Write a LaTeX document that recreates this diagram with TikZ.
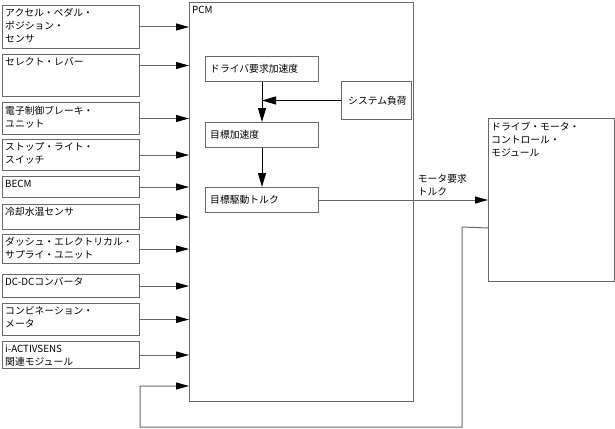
\documentclass[tikz,border=0pt]{standalone}
\usepackage{fontspec}
\setmainfont{Noto Sans CJK JP}
\usetikzlibrary{arrows.meta}
\definecolor{boxgray}{RGB}{105,105,105}

\begin{document}
\begin{tikzpicture}[x=1pt, y=-1pt, font=\fontsize{9.8}{13}\selectfont,
  sbox/.style={draw=boxgray, line width=1pt, anchor=north west, inner sep=0pt, minimum width=137pt},
  ibox/.style={draw=boxgray, line width=1pt, anchor=north west, inner sep=0pt},
  tl/.style={anchor=north west, align=left, inner xsep=3pt, inner ysep=3.5pt},
  ml/.style={anchor=west, inner sep=0pt},
  arr/.style={draw=boxgray, line width=1pt, -{Triangle[length=13pt,width=7pt,color=black]}},
  iarr/.style={draw=black, line width=1pt, -{Triangle[length=14pt,width=8pt]}}]
  \useasboundingbox (0,0) rectangle (615,428);

  % input units
  \node[sbox, minimum height=43pt, label={[tl]north west:アクセル・ペダル・\\ポジション・\\センサ}] (accel) at (2,5) {};
  \node[sbox, minimum height=42pt, label={[tl]north west:セレクト・レバー}] (sel) at (2,54) {};
  \node[sbox, minimum height=32pt, label={[tl]north west:電子制御ブレーキ・\\ユニット}] (ebrk) at (2,102) {};
  \node[sbox, minimum height=31pt, label={[tl]north west:ストップ・ライト・\\スイッチ}] (stop) at (2,139) {};
  \node[sbox, minimum height=21pt, label={[tl]north west:BECM}] (becm) at (2,176) {};
  \node[sbox, minimum height=25pt, label={[tl]north west:冷却水温センサ}] (cool) at (2,204) {};
  \node[sbox, minimum height=29pt, label={[tl]north west:ダッシュ・エレクトリカル・\\サプライ・ユニット}] (dash) at (2,234) {};
  \node[sbox, minimum height=23pt, label={[tl]north west:DC-DCコンバータ}] (dcdc) at (2,274) {};
  \node[sbox, minimum height=32pt, label={[tl]north west:コンビネーション・\\メータ}] (combi) at (2,303) {};
  \node[sbox, minimum height=27pt, label={[tl]north west:i-ACTIVSENS\\関連モジュール}] (iact) at (2,341) {};

  % PCM and its blocks
  \node[ibox, minimum width=224pt, minimum height=399pt, label={[tl]north west:PCM}] (pcm) at (189,2) {};
  \node[ibox, minimum width=113pt, minimum height=25pt, label={[ml, xshift=5pt]west:ドライバ要求加速度}] (drv) at (205,56) {};
  \node[ibox, minimum width=70pt, minimum height=38pt, label={[ml, xshift=7pt]west:システム負荷}] (sys) at (341,81) {};
  \node[ibox, minimum width=113pt, minimum height=25pt, label={[ml, xshift=5pt]west:目標加速度}] (acc) at (205,122) {};
  \node[ibox, minimum width=113pt, minimum height=25pt, label={[ml, xshift=5pt]west:目標駆動トルク}] (torque) at (205,187) {};

  \node[ibox, minimum width=126pt, minimum height=163pt, label={[tl]north west:ドライブ・モータ・\\コントロール・\\モジュール}] (dmcm) at (488,118) {};

  \coordinate (fb1) at (462,227);
  \coordinate (fb2) at (462,427);
  \coordinate (fb3) at (140,427);
  \coordinate (fb4) at (140,386);

  \foreach \u in {accel,ebrk,stop,becm,cool,dash,dcdc,combi,iact}
    \draw[arr] (\u.east) -- (\u.east -| pcm.west);
  \draw[arr] ([yshift=10pt]sel.east) -- ([yshift=10pt]sel.east -| pcm.west);

  \draw[iarr] (drv) -- (acc);
  \draw[iarr] (acc) -- (torque);
  \draw[iarr] (sys) -- (sys.west -| drv.south);
  \draw[arr] (torque) -- node[pos=0.73, above, align=left] {モータ要求\\トルク} (torque.east -| dmcm.west);

  \draw[arr] ([yshift=-28pt]dmcm.west) -- (fb1) -- (fb2) -- (fb3) -- (fb4) -- (fb4 -| pcm.west);
\end{tikzpicture}
\end{document}
